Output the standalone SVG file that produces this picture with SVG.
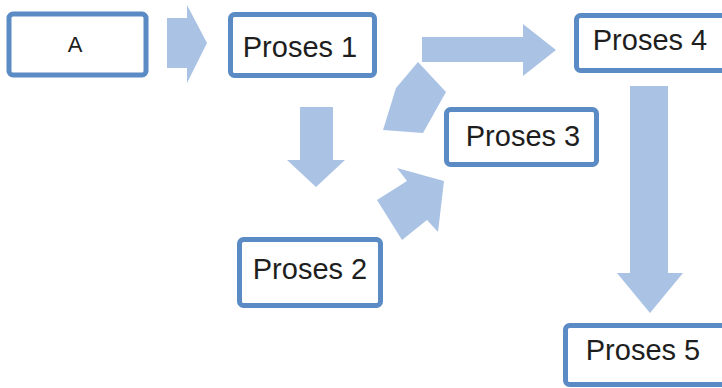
<svg xmlns="http://www.w3.org/2000/svg" width="722" height="388" viewBox="0 0 722 388">
<style>
.box{fill:#ffffff;stroke:#5b8bc5;stroke-width:5}
.lbl{font-family:"Liberation Sans",Arial,sans-serif;font-size:29px;fill:#1e1e1e;text-anchor:middle}
.arr{fill:#aac3e5;stroke:none}
</style>
<rect width="722" height="388" fill="#ffffff"/>
<g id="connectors">
<polygon class="arr" points="167,18 187,18 187,5 207,43 187,83 187,68 167,68"/>
<polygon class="arr" points="300,107 333,107 333,160 345,160 316,187 287,160 300,160"/>
<polygon class="arr" points="383,130 396,88 418,62 446,92 423,133"/>
<polygon class="arr" points="422,37 523,37 523,24 556,50 523,76 523,62 422,62"/>
<polygon class="arr" points="377,200 407,181 397,168 444,181 438,232 427,220 402,240"/>
<polygon class="arr" points="630,86 668,86 668,273 683,273 650,313 617,273 630,273"/>
</g>
<g id="nodeA">
<rect class="box" x="9" y="14" width="137" height="61" rx="4" stroke-width="4"/>
<text class="lbl" x="75" y="52" style="font-size:22px">A</text>
</g>
<g id="proses1">
<rect class="box" x="230.5" y="14.5" width="144" height="61" rx="4"/>
<text class="lbl" x="300" y="57">Proses 1</text>
</g>
<g id="proses4">
<rect class="box" x="576.5" y="15.5" width="160" height="55" rx="4"/>
<text class="lbl" x="650" y="50">Proses 4</text>
</g>
<g id="proses3">
<rect class="box" x="446.5" y="109.5" width="150" height="55" rx="4"/>
<text class="lbl" x="523" y="146">Proses 3</text>
</g>
<g id="proses2">
<rect class="box" x="239.5" y="239.5" width="141" height="66" rx="4"/>
<text class="lbl" x="310" y="279">Proses 2</text>
</g>
<g id="proses5">
<rect class="box" x="565.5" y="325.5" width="170" height="59" rx="4"/>
<text class="lbl" x="643" y="360">Proses 5</text>
</g>
</svg>
